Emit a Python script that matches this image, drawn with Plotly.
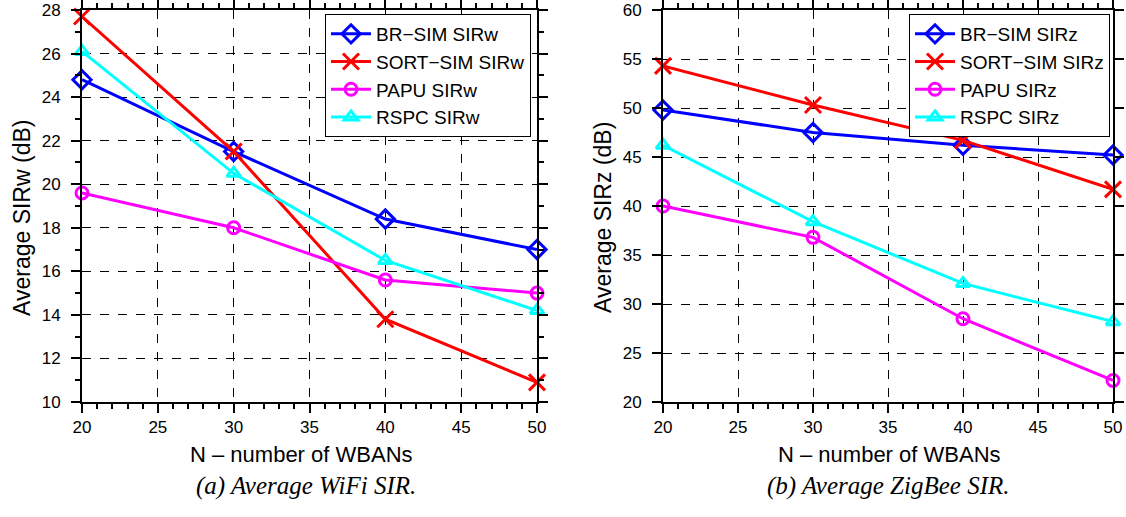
import plotly.graph_objects as go

N = [20, 30, 40, 50]

# Left: Average WiFi SIR (SIRw)
brsim_w = [24.8, 21.5, 18.4, 17.0]
sortsim_w = [27.7, 21.5, 13.8, 10.9]
papu_w = [19.6, 18.0, 15.6, 15.0]
rspc_w = [26.1, 20.5, 16.5, 14.2]

# Right: Average ZigBee SIR (SIRz)
brsim_z = [49.8, 47.5, 46.2, 45.2]
sortsim_z = [54.3, 50.3, 46.7, 41.7]
papu_z = [40.0, 36.8, 28.5, 22.2]
rspc_z = [46.2, 38.4, 32.1, 28.2]

names_w = ["BR\u2212SIM SIRw", "SORT\u2212SIM SIRw", "PAPU SIRw", "RSPC SIRw"]
names_z = ["BR\u2212SIM SIRz", "SORT\u2212SIM SIRz", "PAPU SIRz", "RSPC SIRz"]

x_title = "N \u2013 number of WBANs"
y_title_w = "Average SIRw (dB)"
y_title_z = "Average SIRz (dB)"
caption_w = "(a) Average WiFi SIR."
caption_z = "(b) Average ZigBee SIR."

colors = ["#0000ff", "#ff0000", "#ff00ff", "#00ffff"]
symbols = ["diamond-open", "x-thin-open", "circle-open", "triangle-up-open"]
sizes = [14, 16, 12, 12]

FONT = "Liberation Sans, Arial, sans-serif"

fig = go.Figure()
for vals, name, c, s, sz in zip([brsim_w, sortsim_w, papu_w, rspc_w], names_w, colors, symbols, sizes):
    fig.add_trace(go.Scatter(x=N, y=vals, name=name, mode="lines+markers",
                             line=dict(color=c, width=3),
                             marker=dict(symbol=s, size=sz, color=c, line=dict(color=c, width=3)),
                             xaxis="x", yaxis="y", legend="legend", cliponaxis=False))
for vals, name, c, s, sz in zip([brsim_z, sortsim_z, papu_z, rspc_z], names_z, colors, symbols, sizes):
    fig.add_trace(go.Scatter(x=N, y=vals, name=name, mode="lines+markers",
                             line=dict(color=c, width=3),
                             marker=dict(symbol=s, size=sz, color=c, line=dict(color=c, width=3)),
                             xaxis="x2", yaxis="y2", legend="legend2", cliponaxis=False))

W, H = 1126, 517
L, R, T, B = 82, 1113, 10, 402     # plot-area pixel bounds
PW, PH = R - L, B - T

def px(x):
    return (x - L) / PW

def py(y):
    return (B - y) / PH

common_x = dict(range=[20, 50], dtick=5, tick0=20, showline=True, linecolor="black", linewidth=2,
                mirror="ticks", ticks="outside", ticklen=9, tickwidth=1.5, tickcolor="black",
                showgrid=True, gridcolor="black", griddash="dash", gridwidth=1, automargin=False,
                zeroline=False, tickfont=dict(family=FONT, size=17, color="black"), ticklabelstandoff=0,
                minor=dict(dtick=1, ticks="outside", ticklen=5, tickcolor="black", showgrid=False))
common_y = dict(showline=True, linecolor="black", linewidth=2, mirror="ticks", ticks="outside",
                ticklen=9, tickwidth=1.5, tickcolor="black", showgrid=True, gridcolor="black",
                griddash="dash", gridwidth=1, zeroline=False, automargin=False, ticklabelstandoff=7,
                tickfont=dict(family=FONT, size=17, color="black"))

legend_common = dict(yanchor="top", y=py(14), xanchor="right", bgcolor="white",
                     bordercolor="black", borderwidth=1, font=dict(family=FONT, size=19, color="black"),
                     tracegroupgap=0, itemwidth=40)

fig.update_layout(
    width=W, height=H, margin=dict(l=L, r=W - R, t=T, b=H - B, autoexpand=False),
    paper_bgcolor="white", plot_bgcolor="white",
    xaxis=dict(domain=[0, px(537)], anchor="y", **common_x),
    yaxis=dict(domain=[0, 1], anchor="x", range=[10, 28], dtick=2,
               minor=dict(dtick=1, ticks="outside", ticklen=5, tickcolor="black", showgrid=False),
               **common_y),
    xaxis2=dict(domain=[px(663), 1], anchor="y2", **common_x),
    yaxis2=dict(domain=[0, 1], anchor="x2", range=[20, 60], dtick=5, **common_y),
    legend=dict(x=px(531), **legend_common),
    legend2=dict(x=px(1110), **legend_common),
    showlegend=True,
)

title_font = dict(family=FONT, size=22, color="black")
for xc in (301, 889):
    fig.add_annotation(text=x_title, x=px(xc), y=py(454), xref="paper", yref="paper",
                       showarrow=False, font=title_font, xanchor="center", yanchor="middle")
for xc, txt in ((22, y_title_w), (603, y_title_z)):
    fig.add_annotation(text=txt, x=px(xc), y=py(218), xref="paper", yref="paper", textangle=-90,
                       showarrow=False, font=dict(family=FONT, size=23, color="black"),
                       xanchor="center", yanchor="middle")

cap_font = dict(family="Liberation Serif, serif", size=25, color="black", style="italic")
fig.add_annotation(text=caption_w, x=px(306), y=py(486), xref="paper", yref="paper",
                   showarrow=False, font=cap_font, xanchor="center", yanchor="middle")
fig.add_annotation(text=caption_z, x=px(888), y=py(486), xref="paper", yref="paper",
                   showarrow=False, font=cap_font, xanchor="center", yanchor="middle")

fig.write_html("out.html")
